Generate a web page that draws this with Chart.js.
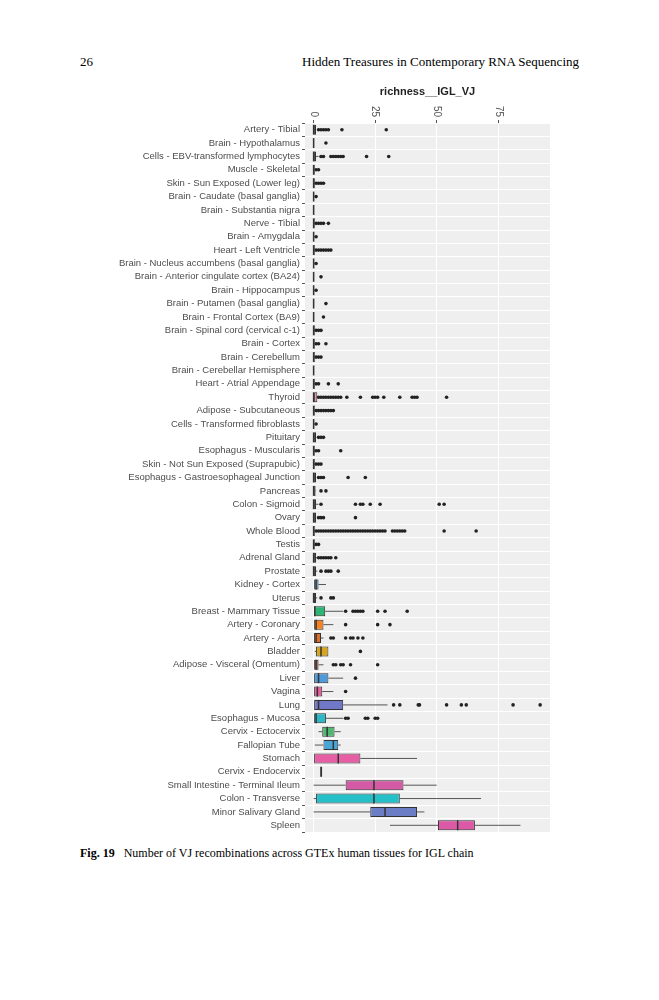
<!DOCTYPE html>
<html><head><meta charset="utf-8">
<script src="https://cdn.jsdelivr.net/npm/chart.js@4.4.1/dist/chart.umd.min.js"></script>
<style>
body{margin:0;background:#fff;width:659px;height:1000px;position:relative;font-family:"Liberation Serif","DejaVu Serif",serif;}
#pg{position:absolute;left:80px;top:54px;font-size:13px;}
#hd{position:absolute;right:80px;top:54px;font-size:13px;}
#wrap{position:absolute;left:0;top:85px;width:560px;height:760px;}
#cap{position:absolute;left:80px;top:846px;font-size:12px;}
</style></head><body>
<div id="pg">26</div>
<div id="hd">Hidden Treasures in Contemporary RNA Sequencing</div>
<div id="wrap"><canvas id="c"></canvas></div>
<div id="cap"><b>Fig. 19</b>&nbsp;&nbsp; Number of VJ recombinations across GTEx human tissues for IGL chain</div>
<script>
const tissues = ['Artery - Tibial','Brain - Hypothalamus','Cells - EBV-transformed lymphocytes','Muscle - Skeletal','Skin - Sun Exposed (Lower leg)','Brain - Caudate (basal ganglia)','Brain - Substantia nigra','Nerve - Tibial','Brain - Amygdala','Heart - Left Ventricle','Brain - Nucleus accumbens (basal ganglia)','Brain - Anterior cingulate cortex (BA24)','Brain - Hippocampus','Brain - Putamen (basal ganglia)','Brain - Frontal Cortex (BA9)','Brain - Spinal cord (cervical c-1)','Brain - Cortex','Brain - Cerebellum','Brain - Cerebellar Hemisphere','Heart - Atrial Appendage','Thyroid','Adipose - Subcutaneous','Cells - Transformed fibroblasts','Pituitary','Esophagus - Muscularis','Skin - Not Sun Exposed (Suprapubic)','Esophagus - Gastroesophageal Junction','Pancreas','Colon - Sigmoid','Ovary','Whole Blood','Testis','Adrenal Gland','Prostate','Kidney - Cortex','Uterus','Breast - Mammary Tissue','Artery - Coronary','Artery - Aorta','Bladder','Adipose - Visceral (Omentum)','Liver','Vagina','Lung','Esophagus - Mucosa','Cervix - Ectocervix','Fallopian Tube','Stomach','Cervix - Endocervix','Small Intestine - Terminal Ileum','Colon - Transverse','Minor Salivary Gland','Spleen'];
// [low whisker, q1, median, q3, high whisker]
const stats = [
[0,0,0,1,1],[0,0,0,0.3,0.3],[0,0,0,1,2],[0,0,0,0.5,0.5],[0,0,0,0.5,0.5],[0,0,0,0.3,0.3],[0,0,0,0.3,0.3],[0,0,0,0.5,0.5],[0,0,0,0.3,0.3],[0,0,0,0.5,0.5],
[0,0,0,0.3,0.3],[0,0,0,0.3,0.3],[0,0,0,0.3,0.3],[0,0,0,0.3,0.3],[0,0,0,0.3,0.3],[0,0,0,0.5,0.5],[0,0,0,0.5,0.5],[0,0,0,0.5,0.5],[0,0,0,0.3,0.3],[0,0,0,0.5,0.5],
[0,0,0,1.5,2],[0,0,0,0.5,0.5],[0,0,0,0.3,0.3],[0,0,0,1,1],[0,0,0,0.5,0.5],[0,0,0,0.5,0.5],[0,0,0,1,1],[0,0,0,0.8,1],[0,0,0,1,2],[0,0,0,1,1],
[0,0,0,0.5,0.5],[0,0,0,0.5,0.5],[0,0,0,1,1.5],[0,0,0,1,1.5],[0,0,1,2,5],[0,0,0,1,1.5],[0,0,0.5,4.7,12],[0,0,1,4,8],[0,0,1,3,4],[0.5,1,3,6,6],
[0,0,1,2,4],[0,0,2,6,12],[0,0,1.5,3.5,8],[0,0,2,12,30],[0,0,1,5,12],[2,3.5,5.5,8.5,11],[0.5,4,8,10,11],[0,0,10,19,42],[2.8,2.8,3,3.5,3.5],[0,13,24.5,36.5,50],
[0,1,24.5,35,68],[0,23,29,42,45],[31,50.5,58.5,65.5,84]];
const outliers = [
[2,3,4,5,6,11.5,29.5],[5],[3,4,7,8,9,10,11,12,21.5,30.5],[1,2],[1,2,3,4],[1],[],[1,2,3,4,6],[1],[1,2,3,4,5,6,7],
[1],[3],[1],[5],[4],[1,2,3],[1,2,5],[1,2,3],[],[1,2,6,10],
[2,3,4,5,6,7,8,9,10,11,13.5,19,24,25,26,28.5,35,40,41,42,54],[1,2,3,4,5,6,7,8],[1],[2,3,4],[1,2,11],[1,2,3],[2,3,4,14,21],[3,5],[3,17,19,20,23,27,51,53],[2,3,4,17],
[1,2,3,4,5,6,7,8,9,10,11,12,13,14,15,16,17,18,19,20,21,22,23,24,25,26,27,28,29,32,33,34,35,36,37,53,66],[1,2],[2,3,4,5,6,7,9],[3,5,6,7,10],[],[3,7,8],[13,16,17,18,19,20,26,29,38],[13,26,31],[7,8,13,15,16,18,20],[19],
[8,9,11,12,15,26],[17],[13],[32.5,35,42.5,43,54,60,62,81,92],[13,14,21,22,25,26],[],[],[],[],[],
[],[],[]];
const boxColors = ['#E8665F','#EEEE00','#78C9B4','#AAAAFF','#7777FF','#EEEE00','#EEEE00','#FFD700','#EEEE00','#7A0F91',
'#EEEE00','#EEEE00','#EEEE00','#EEEE00','#EEEE00','#EEEE00','#EEEE00','#EEEE00','#EEEE00','#9900FF',
'#E58AA3','#FFA54F','#9AC0CD','#AABB66','#8B7355','#3A5FCD','#8B7355','#995522','#2FA67F','#FFAACC',
'#FF00BB','#AAAAAA','#33DD33','#DDDDDD','#4EA2DB','#EE77EE','#2FB573','#F58121','#E06F2C','#D8A51D',
'#B05438','#4F9BD9','#E6609A','#7178C8','#2CB8C6','#4CB870','#49A5D8','#E65EA3','#E9A0D4','#D55AA5',
'#25BFC7','#6B7DC4','#DC59A5'];
const xTicks = [0,25,50,75];

const boxes = stats.map(s => [s[1], Math.max(s[3], s[1] + 0.3)]);
const scatterPts = [];
outliers.forEach((arr, i) => arr.forEach(v => scatterPts.push({x: v, y: tissues[i]})));

const boxPlugin = {
  id: 'boxparts',
  beforeDatasetsDraw(chart) {
    const {ctx, scales: {x, y}} = chart;
    ctx.save(); ctx.strokeStyle = '#555'; ctx.lineWidth = 1;
    stats.forEach((s, i) => {
      const yy = y.getPixelForValue(i);
      ctx.beginPath();
      ctx.moveTo(x.getPixelForValue(s[0]), yy); ctx.lineTo(x.getPixelForValue(s[1]), yy);
      ctx.moveTo(x.getPixelForValue(s[3]), yy); ctx.lineTo(x.getPixelForValue(s[4]), yy);
      ctx.stroke();
    });
    ctx.restore();
  },
  afterDatasetDraw(chart, args) {
    if (args.index !== 0) return;
    const {ctx, scales: {x, y}} = chart;
    ctx.save(); ctx.strokeStyle = '#333'; ctx.lineWidth = 1.5;
    stats.forEach((s, i) => {
      const yy = y.getPixelForValue(i), h = 5;
      const xx = x.getPixelForValue(s[2]);
      ctx.beginPath(); ctx.moveTo(xx, yy - h); ctx.lineTo(xx, yy + h); ctx.stroke();
    });
    ctx.restore();
  },
  afterDraw(chart) {
    // x tick labels, rotated clockwise like the reference
    const {ctx, chartArea: a, scales: {x}} = chart;
    ctx.save(); ctx.fillStyle = '#555'; ctx.font = '10px "Liberation Sans"';
    ctx.textAlign = 'right'; ctx.textBaseline = 'middle';
    xTicks.forEach(v => {
      ctx.save();
      ctx.translate(x.getPixelForValue(v), a.top - 6);
      ctx.rotate(Math.PI / 2);
      ctx.fillText(String(v), 0, 0);
      ctx.restore();
    });
    ctx.restore();
  }
};
const bgPlugin = {
  id: 'panelbg',
  beforeDraw(chart) {
    const {ctx, chartArea: a} = chart;
    ctx.save(); ctx.fillStyle = '#EFEFEF'; ctx.fillRect(a.left, a.top, a.right - a.left, a.bottom - a.top); ctx.restore();
  }
};

new Chart(document.getElementById('c'), {
  type: 'bar',
  data: {
    labels: tissues,
    datasets: [
      {data: boxes, backgroundColor: boxColors, borderColor: '#333', borderWidth: 1, borderSkipped: false,
       barPercentage: 0.75, categoryPercentage: 1, grouped: false},
      {type: 'scatter', data: scatterPts, pointRadius: 1.8, backgroundColor: '#222', borderWidth: 0}
    ]
  },
  options: {
    indexAxis: 'y', responsive: true, maintainAspectRatio: false, animation: false,
    layout: {padding: {top: 0, right: 10, bottom: 13, left: 0}},
    plugins: {legend: {display: false}, tooltip: {enabled: false}},
    scales: {
      x: {position: 'top', type: 'linear', min: -3.5, max: 96,
        afterBuildTicks: ax => { ax.ticks = xTicks.map(v => ({value: v})); },
        afterFit: ax => { ax.height = 38; },
        title: {display: true, text: 'richness__IGL_VJ', color: '#222', font: {family: 'Liberation Sans', size: 11, weight: 'bold'}, padding: {top: 0, bottom: 2}},
        ticks: {display: false},
        grid: {color: '#FFFFFF', lineWidth: 1, tickColor: '#555', tickLength: 3, drawOnChartArea: true},
        border: {display: false}},
      y: {type: 'category',
        afterFit: ax => { ax.width = 305; },
        ticks: {autoSkip: false, color: '#4d4d4d', padding: 2, font: {family: 'Liberation Sans', size: 9.5}},
        grid: {display: true, color: '#FFFFFF', tickColor: '#555', tickLength: 3},
        border: {display: false}}
    }
  },
  plugins: [bgPlugin, boxPlugin]
});
</script>
</body></html>
